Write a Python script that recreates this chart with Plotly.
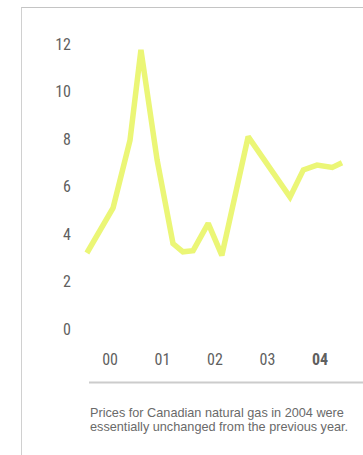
import plotly.graph_objects as go

# Canadian natural gas price, sampled at turning points
dates = [
    "2000-01-22", "2000-07-22", "2000-11-17", "2001-02-01", "2001-05-25",
    "2001-09-12", "2001-11-20", "2002-01-30", "2002-05-15", "2002-08-18",
    "2003-02-17", "2003-12-05", "2004-03-07", "2004-06-10", "2004-09-24",
    "2004-12-01",
]
prices = [3.2, 5.1, 7.95, 11.75, 7.1, 3.6, 3.25, 3.3, 4.45, 3.1,
          8.1, 5.55, 6.7, 6.9, 6.8, 7.0]

year_ticks = ["2000-07-01", "2001-07-01", "2002-07-01", "2003-07-01", "2004-07-01"]
year_labels = ["00", "01", "02", "03", "<b>04</b>"]
price_ticks = [0, 2, 4, 6, 8, 10, 12]

caption_lines = [
    "Prices for Canadian natural gas in 2004 were",
    "essentially unchanged from the previous year.",
]

COND = "Roboto Condensed, Liberation Sans Narrow, Arial Narrow, sans-serif"
TEXT = "Liberation Sans, Arial, sans-serif"
W, H = 363, 455
ML, MR, MT, MB = 80, 0, 35, 119

fig = go.Figure(
    go.Scatter(
        x=dates, y=prices, mode="lines",
        line=dict(color="#ebf676", width=5.5),
        hoverinfo="skip",
    )
)

fig.update_layout(
    width=W, height=H,
    margin=dict(l=ML, r=MR, t=MT, b=MB),
    paper_bgcolor="white", plot_bgcolor="white",
    showlegend=False,
    font=dict(family=COND, size=15, color="#5a5a5a"),
)

fig.update_xaxes(
    type="date",
    range=["1999-12-05", "2005-04-26"],
    tickvals=year_ticks, ticktext=year_labels,
    showgrid=False, zeroline=False, showline=False, ticks="",
    ticklabelstandoff=12,
    tickfont=dict(family=COND, size=16, color="#5f5f5f"),
)
fig.update_yaxes(
    range=[-0.295, 12.379],
    tickvals=price_ticks,
    showgrid=False, zeroline=False, showline=False, ticks="",
    ticklabelstandoff=8,
    tickfont=dict(family=COND, size=16, color="#5f5f5f"),
)

# pixel -> paper helpers for the frame and caption
px = lambda v: (v - ML) / (W - ML - MR)
py = lambda v: (H - MB - v) / (H - MT - MB)

frame = dict(color="#c4c4c4", width=1)
fig.add_shape(type="line", xref="paper", yref="paper",
              x0=px(21), x1=px(W), y0=py(7.5), y1=py(7.5), line=frame)
fig.add_shape(type="line", xref="paper", yref="paper",
              x0=px(21.5), x1=px(21.5), y0=py(7.5), y1=py(H),
              line=dict(color="#d0d0d0", width=1))
# rule under the year labels
fig.add_shape(type="line", xref="paper", yref="paper",
              x0=px(89), x1=px(W), y0=py(382.5), y1=py(382.5),
              line=dict(color="#cccccc", width=2))

for i, line in enumerate(caption_lines):
    fig.add_annotation(
        text=line, xref="paper", yref="paper",
        x=px(88), y=py(413 + 14 * i), xanchor="left", yanchor="middle",
        align="left", showarrow=False,
        font=dict(family=TEXT, size=12.7, color="#6a6a6a"),
    )

fig.write_html("out.html")
